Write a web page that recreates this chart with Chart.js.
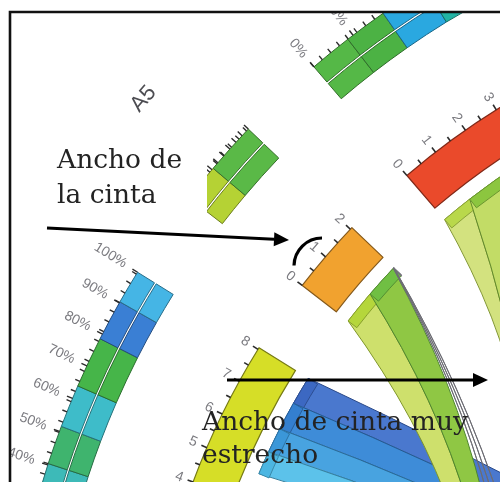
<!DOCTYPE html>
<html lang="es">
<head>
<meta charset="utf-8">
<title>Ancho de cinta</title>
<script src="https://cdn.jsdelivr.net/npm/chart.js@4.4.1/dist/chart.umd.min.js"></script>
<style>
  html, body { margin: 0; padding: 0; background: #ffffff; }
  #box { position: relative; width: 500px; height: 482px; }
</style>
</head>
<body>
<div id="box"><canvas id="chart" width="500" height="482"></canvas></div>
<script>
// ---------------- data ----------------
const segmentNames = ['A4', 'A5', 'A6'];
const segmentSizes = [8.05, 2.06, 11.4];         // segment lengths, in count units
const countTickLabels = ['0', '1', '2', '3', '4', '5', '6', '7', '8', '9', '10', '11'];
const percentTickLabels = ['0%', '10%', '20%', '30%', '40%', '50%', '60%', '70%', '80%', '90%', '100%'];

// composition rings: cell boundaries, in percent of each segment
const pctBreaksA4 = [0, 40.4, 51.5, 63.8, 78.5, 90.3, 100];
const pctBreaksA5 = [0, 42, 100];
const pctBreaksA6 = [0, 8.7, 17.4, 27.2, 100];

// ribbons: source segment index, start and end (count units) on that segment
const ribbonSource = [
  [0, 7.20, 8.05], [0, 6.35, 7.20], [0, 5.60, 6.35], [0, 4.90, 5.60],
  [2, 0.00, 0.95], [2, 0.95, 2.80],
  [1, 0.00, 1.02], [1, 1.02, 2.03],
  [1, 2.032, 2.040], [1, 2.044, 2.051], [1, 2.054, 2.060]
];
// far end of each ribbon, as a position on the circle in degrees
const ribbonTargetDeg = [
  [30, 33], [33, 36], [36, 39], [39, 41.5],
  [-230, -176], [-236, -230],
  [-213, -210], [-217, -213],
  [-222, -221.7], [-226, -225.8], [-230, -229.8]
];

// ---------------- styles ----------------
const segmentColors = ['#d6de27', '#f1a22f', '#ea4a2b'];
const pctColorsA4 = ['#3dbab8', '#3fb46e', '#3ebcc9', '#46b549', '#3a7fd4', '#45b5e5'];
const pctColorsA5 = ['#b5d234', '#5ab947'];
const pctColorsA6 = ['#55b847', '#4cb244', '#2aa8e0', '#22b3a4'];
const ribbonFill = ['#4a78ce', '#3e8cd8', '#48a3e0', '#5cc2ea',
                    '#d3e27f', '#c2dc66',
                    '#cee06c', '#8fc744',
                    '#d6d6dc', '#d6d6dc', '#d6d6dc'];
const ribbonCap  = ['#3c68c2', '#347fcf', '#3b97d8', '#4cb6e2',
                    '#b9d84b', '#8cc63f',
                    '#b5d63b', '#70bf43',
                    '#9a9aa4', '#9a9aa4', '#9a9aa4'];

// ---------------- layout (chart units) ----------------
const CENTER = { x: 890, y: 740 };
const START_DEG = -171.1, DEG_PER_UNIT = 2.853, GAP_DEG = 5.85;
const RAD = {
  ribbonIn: 674, ribbonOut: 685,
  ideoIn: 700, ideoOut: 743, tickOut: 748, tickLabel: 758,
  pctIn: 844, pctSplit: 865, pctOut: 886, pctTickOut: 891, pctLabel: 900,
  segLabel: 984
};
const ribbonBend = [80, 80, 80, 80, 240, 240, 250, 250, 238, 226, 214];
const PCT_LABEL_MIN_SIZE = 3;
const FRAME = { x: 10, y: 12, w: 2.6 };
const NOTE_BOX = { x: 40, y: 118, w: 167, h: 106 };
const notes = [
  { lines: ['Ancho de', 'la cinta'], x: 57, y: 168, lead: 35 },
  { lines: ['Ancho de cinta muy', 'estrecho'], x: 202, y: 430, lead: 33 }
];
const arrows = [
  { from: [47, 228], to: [289, 240] },
  { from: [227, 380], to: [488, 380] }
];
const widthArc = { x: 322, y: 266, r: 28, from: 181, to: 270 };

const pctBreaks = [pctBreaksA4, pctBreaksA5, pctBreaksA6];
const pctColors = [pctColorsA4, pctColorsA5, pctColorsA6];

function segStartDeg(i) {
  let a = START_DEG;
  for (let j = 0; j < i; j++) a += segmentSizes[j] * DEG_PER_UNIT + GAP_DEG;
  return a;
}
function posDeg(i, u) { return segStartDeg(i) + u * DEG_PER_UNIT; }

function shade(hex, f) {
  const n = parseInt(hex.slice(1), 16);
  const c = [(n >> 16) & 255, (n >> 8) & 255, n & 255].map(v => Math.round(v * f));
  return 'rgb(' + c.join(',') + ')';
}

const diagramPlugin = {
  id: 'diagram',
  afterDraw(chart) {
    const { ctx, scales: { x, y } } = chart;
    const unit = x.getPixelForValue(1) - x.getPixelForValue(0);
    const cx = x.getPixelForValue(CENTER.x), cy = y.getPixelForValue(CENTER.y);
    const rad = d => d * Math.PI / 180;
    const pt = (r, d) => [x.getPixelForValue(CENTER.x + r * Math.cos(rad(d))),
                          y.getPixelForValue(CENTER.y + r * Math.sin(rad(d)))];

    function sector(r0, r1, a0, a1) {
      ctx.beginPath();
      ctx.arc(cx, cy, r1 * unit, rad(a0), rad(a1), false);
      ctx.arc(cx, cy, r0 * unit, rad(a1), rad(a0), true);
      ctx.closePath();
    }
    function radialLine(r0, r1, d) {
      const p = pt(r0, d), q = pt(r1, d);
      ctx.beginPath(); ctx.moveTo(p[0], p[1]); ctx.lineTo(q[0], q[1]); ctx.stroke();
    }
    // text reading towards the centre; align 'right' puts its inner end at r
    function radialText(text, r, d, font, color, align) {
      const p = pt(r, d);
      ctx.save();
      ctx.translate(p[0], p[1]);
      ctx.rotate(rad(d + 180));
      ctx.font = font; ctx.fillStyle = color;
      ctx.textAlign = align; ctx.textBaseline = 'middle';
      ctx.fillText(text, 0, 0);
      ctx.restore();
    }
    function ribbon(a0, a1, b0, b1, bend) {
      const r = RAD.ribbonOut * unit;
      const ctrl = (d1, d2) => pt(bend, (d1 + d2) / 2);
      ctx.beginPath();
      ctx.arc(cx, cy, r, rad(a0), rad(a1), false);
      let q = ctrl(a1, b0), e = pt(RAD.ribbonOut, b0);
      ctx.quadraticCurveTo(q[0], q[1], e[0], e[1]);
      ctx.arc(cx, cy, r, rad(b0), rad(b1), false);
      q = ctrl(b1, a0); e = pt(RAD.ribbonOut, a0);
      ctx.quadraticCurveTo(q[0], q[1], e[0], e[1]);
      ctx.closePath();
    }

    ctx.save();
    const fx = x.getPixelForValue(FRAME.x), fy = y.getPixelForValue(FRAME.y);
    ctx.beginPath();
    ctx.rect(fx, fy, chart.width - fx, chart.height - fy);
    ctx.clip();
    ctx.lineJoin = 'round';

    // ribbons
    ribbonSource.forEach((s, i) => {
      const a0 = posDeg(s[0], s[1]), a1 = posDeg(s[0], s[2]);
      const [b0, b1] = ribbonTargetDeg[i];
      ribbon(a0, a1, b0, b1, ribbonBend[i]);
      ctx.fillStyle = ribbonFill[i]; ctx.fill();
      ctx.strokeStyle = shade(ribbonCap[i], 0.7); ctx.lineWidth = 1; ctx.stroke();
      [[a0, a1], [b0, b1]].forEach(([c0, c1]) => {
        sector(RAD.ribbonIn, RAD.ribbonOut, c0, c1);
        ctx.fillStyle = ribbonCap[i]; ctx.fill();
        ctx.strokeStyle = shade(ribbonCap[i], 0.75); ctx.stroke();
      });
    });

    // segments, count ticks and labels
    segmentSizes.forEach((size, i) => {
      const a0 = segStartDeg(i), a1 = posDeg(i, size);
      sector(RAD.ideoIn, RAD.ideoOut, a0, a1);
      ctx.fillStyle = segmentColors[i]; ctx.fill();
      ctx.strokeStyle = shade(segmentColors[i], 0.55); ctx.lineWidth = 1.2; ctx.stroke();
      ctx.strokeStyle = '#2b2b2b'; ctx.lineWidth = 1.6;
      for (let u = 0; u <= size + 1e-6; u += 0.5) {
        const major = Math.abs(u - Math.round(u)) < 1e-6;
        radialLine(RAD.ideoOut, RAD.tickOut + (major ? 1 : 0), posDeg(i, u));
        if (major) radialText(countTickLabels[Math.round(u)], RAD.tickLabel, posDeg(i, u),
                              '14px "Liberation Sans"', '#7b7b80', 'center');
      }

      // composition ring
      const br = pctBreaks[i], cols = pctColors[i];
      const pDeg = p => a0 + p / 100 * (a1 - a0);
      for (let k = 0; k < br.length - 1; k++) {
        const d0 = pDeg(br[k]), d1 = pDeg(br[k + 1]);
        [[RAD.pctIn, RAD.pctSplit - 1], [RAD.pctSplit + 1, RAD.pctOut]].forEach(([r0, r1]) => {
          sector(r0, r1, d0, d1);
          ctx.fillStyle = cols[k]; ctx.fill();
          ctx.strokeStyle = shade(cols[k], 0.6); ctx.lineWidth = 1; ctx.stroke();
        });
      }
      ctx.strokeStyle = '#2b2b2b'; ctx.lineWidth = 1.4;
      for (let u = 0; u <= size + 1e-6; u += 0.25) radialLine(RAD.pctOut, RAD.pctTickOut, posDeg(i, u));
      for (let k = 0; k <= 10; k++) radialLine(RAD.pctOut, RAD.pctTickOut + 1, pDeg(k * 10));
      if (size >= PCT_LABEL_MIN_SIZE) {
        percentTickLabels.forEach((t, k) =>
          radialText(t, RAD.pctLabel, pDeg(k * 10), '14px "Liberation Sans"', '#7b7b80', 'right'));
      }

      // segment name
      const mid = (a0 + a1) / 2, p = pt(RAD.segLabel, mid);
      ctx.save();
      ctx.translate(p[0], p[1]); ctx.rotate(rad(mid + 90));
      ctx.font = '22px "Liberation Sans"'; ctx.fillStyle = '#4d4d52';
      ctx.textAlign = 'center'; ctx.textBaseline = 'middle';
      ctx.fillText(segmentNames[i], 0, 0);
      ctx.restore();
    });

    // notes
    ctx.fillStyle = '#ffffff';
    ctx.fillRect(x.getPixelForValue(NOTE_BOX.x), y.getPixelForValue(NOTE_BOX.y), NOTE_BOX.w * unit, NOTE_BOX.h * unit);
    ctx.fillStyle = '#232323';
    ctx.font = '26.5px "DejaVu Serif"';
    ctx.textAlign = 'left'; ctx.textBaseline = 'alphabetic';
    notes.forEach(n => n.lines.forEach((t, k) =>
      ctx.fillText(t, x.getPixelForValue(n.x), y.getPixelForValue(n.y + k * n.lead))));

    // arrows
    ctx.strokeStyle = '#000'; ctx.fillStyle = '#000'; ctx.lineWidth = 3; ctx.lineCap = 'butt';
    arrows.forEach(a => {
      const x0 = x.getPixelForValue(a.from[0]), y0 = y.getPixelForValue(a.from[1]);
      const x1 = x.getPixelForValue(a.to[0]), y1 = y.getPixelForValue(a.to[1]);
      const ang = Math.atan2(y1 - y0, x1 - x0), L = 15, W = 7;
      const bx = x1 - L * Math.cos(ang), by = y1 - L * Math.sin(ang);
      ctx.beginPath(); ctx.moveTo(x0, y0); ctx.lineTo(bx, by); ctx.stroke();
      ctx.beginPath(); ctx.moveTo(x1, y1);
      ctx.lineTo(bx - W * Math.sin(ang), by + W * Math.cos(ang));
      ctx.lineTo(bx + W * Math.sin(ang), by - W * Math.cos(ang));
      ctx.closePath(); ctx.fill();
    });
    ctx.beginPath();
    ctx.arc(x.getPixelForValue(widthArc.x), y.getPixelForValue(widthArc.y), widthArc.r * unit,
            rad(widthArc.from), rad(widthArc.to), false);
    ctx.lineWidth = 3.2; ctx.stroke();
    ctx.restore();

    // frame
    ctx.strokeStyle = '#111'; ctx.lineWidth = FRAME.w;
    ctx.beginPath();
    ctx.moveTo(fx, chart.height); ctx.lineTo(fx, fy); ctx.lineTo(chart.width, fy);
    ctx.stroke();
  }
};

new Chart(document.getElementById('chart'), {
  type: 'scatter',
  data: { datasets: [] },
  options: {
    responsive: false,
    animation: false,
    devicePixelRatio: 1,
    layout: { padding: 0 },
    plugins: { legend: { display: false }, tooltip: { enabled: false } },
    scales: {
      x: { type: 'linear', min: 0, max: 500, display: false },
      y: { type: 'linear', min: 0, max: 482, reverse: true, display: false }
    }
  },
  plugins: [diagramPlugin]
});
</script>
</body>
</html>
